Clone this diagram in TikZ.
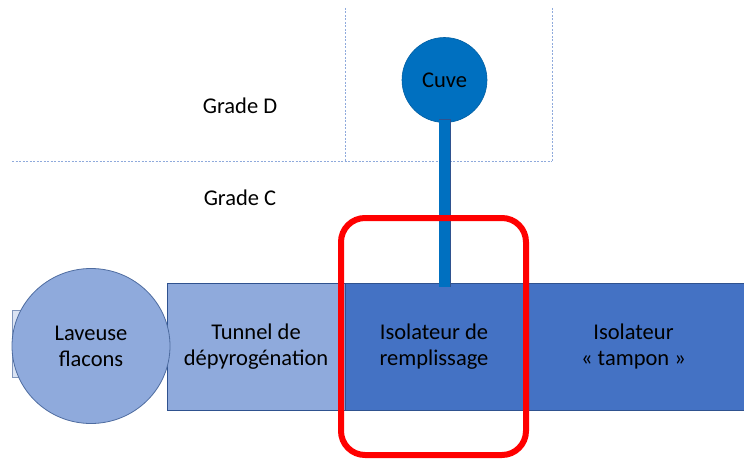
\documentclass[tikz,border=0pt]{standalone}
\usepackage{fontspec}
\setmainfont{Carlito}
\usetikzlibrary{shapes.geometric}
\definecolor{lightfill}{HTML}{8FAADC}
\definecolor{midfill}{HTML}{4472C4}
\definecolor{edgeblue}{HTML}{2F528F}
\definecolor{cuveblue}{HTML}{0070C0}
\definecolor{paleblue}{HTML}{DAE3F3}
\definecolor{zoneline}{HTML}{8FAADC}
\begin{document}
\begin{tikzpicture}[x=1pt,y=-1pt,
  every node/.style={font=\fontsize{22.5}{26}\selectfont, text=black, align=center, inner sep=0pt, outer sep=0pt},
  zone/.style={zoneline, line width=1pt, dash pattern=on 2pt off 1.5pt},
  unitbox/.style={rectangle, draw=edgeblue, line width=0.8pt, minimum height=127pt},
  stub/.style={rectangle, draw=edgeblue!60, fill=paleblue, line width=0.8pt},
  focus/.style={rectangle, draw=red, line width=6pt, rounded corners=24pt},
  stem/.style={cuveblue, line width=11pt}]
\useasboundingbox (0,0) rectangle (744,460);

% zone boundaries (grade D / grade C)
\coordinate (zl) at (12,161);
\coordinate (zm) at (345,161);
\coordinate (zr) at (552,161);
\coordinate (zmt) at (345,8);
\coordinate (zrt) at (552,8);
\draw[zone] (zl) -- (zr);
\draw[zone] (zmt) -- (zm);
\draw[zone] (zrt) -- (zr);

\node (gd) at (240,106) {Grade D};
\node (gc) at (240,198) {Grade C};

% process line
\node[stub, anchor=north west, minimum width=40pt, minimum height=67pt] (stub) at (12,310) {};
\node[unitbox, fill=lightfill, minimum width=178pt] (tun) at (256,346.5) {Tunnel de\\dépyrogénation};
\node[ellipse, draw=edgeblue!85, fill=lightfill, line width=0.8pt, minimum width=158pt, minimum height=155pt] (lav) at (91,346) {Laveuse\\flacons};
\node[unitbox, fill=midfill, minimum width=178pt] (remp) at (434,346.5) {Isolateur de\\remplissage};
\node[unitbox, fill=midfill, minimum width=221pt] (tamp) at (633.5,346.5) {Isolateur\\« tampon »};

% tank and its feed line
\node[circle, fill=cuveblue, draw=cuveblue!85!black, line width=0.6pt, minimum size=85pt] (cuve) at (444.5,80) {Cuve};
\draw[edgeblue, line width=12pt] ([yshift=3.5pt]cuve.south) -- ([yshift=-4pt]remp.north -| cuve.south);
\draw[stem] ([yshift=3pt]cuve.south) -- ([yshift=-3.5pt]remp.north -| cuve.south);

% highlighted filling zone
\node[focus, minimum width=185pt, minimum height=237pt] (zone) at (433.5,336.5) {};
\end{tikzpicture}
\end{document}
